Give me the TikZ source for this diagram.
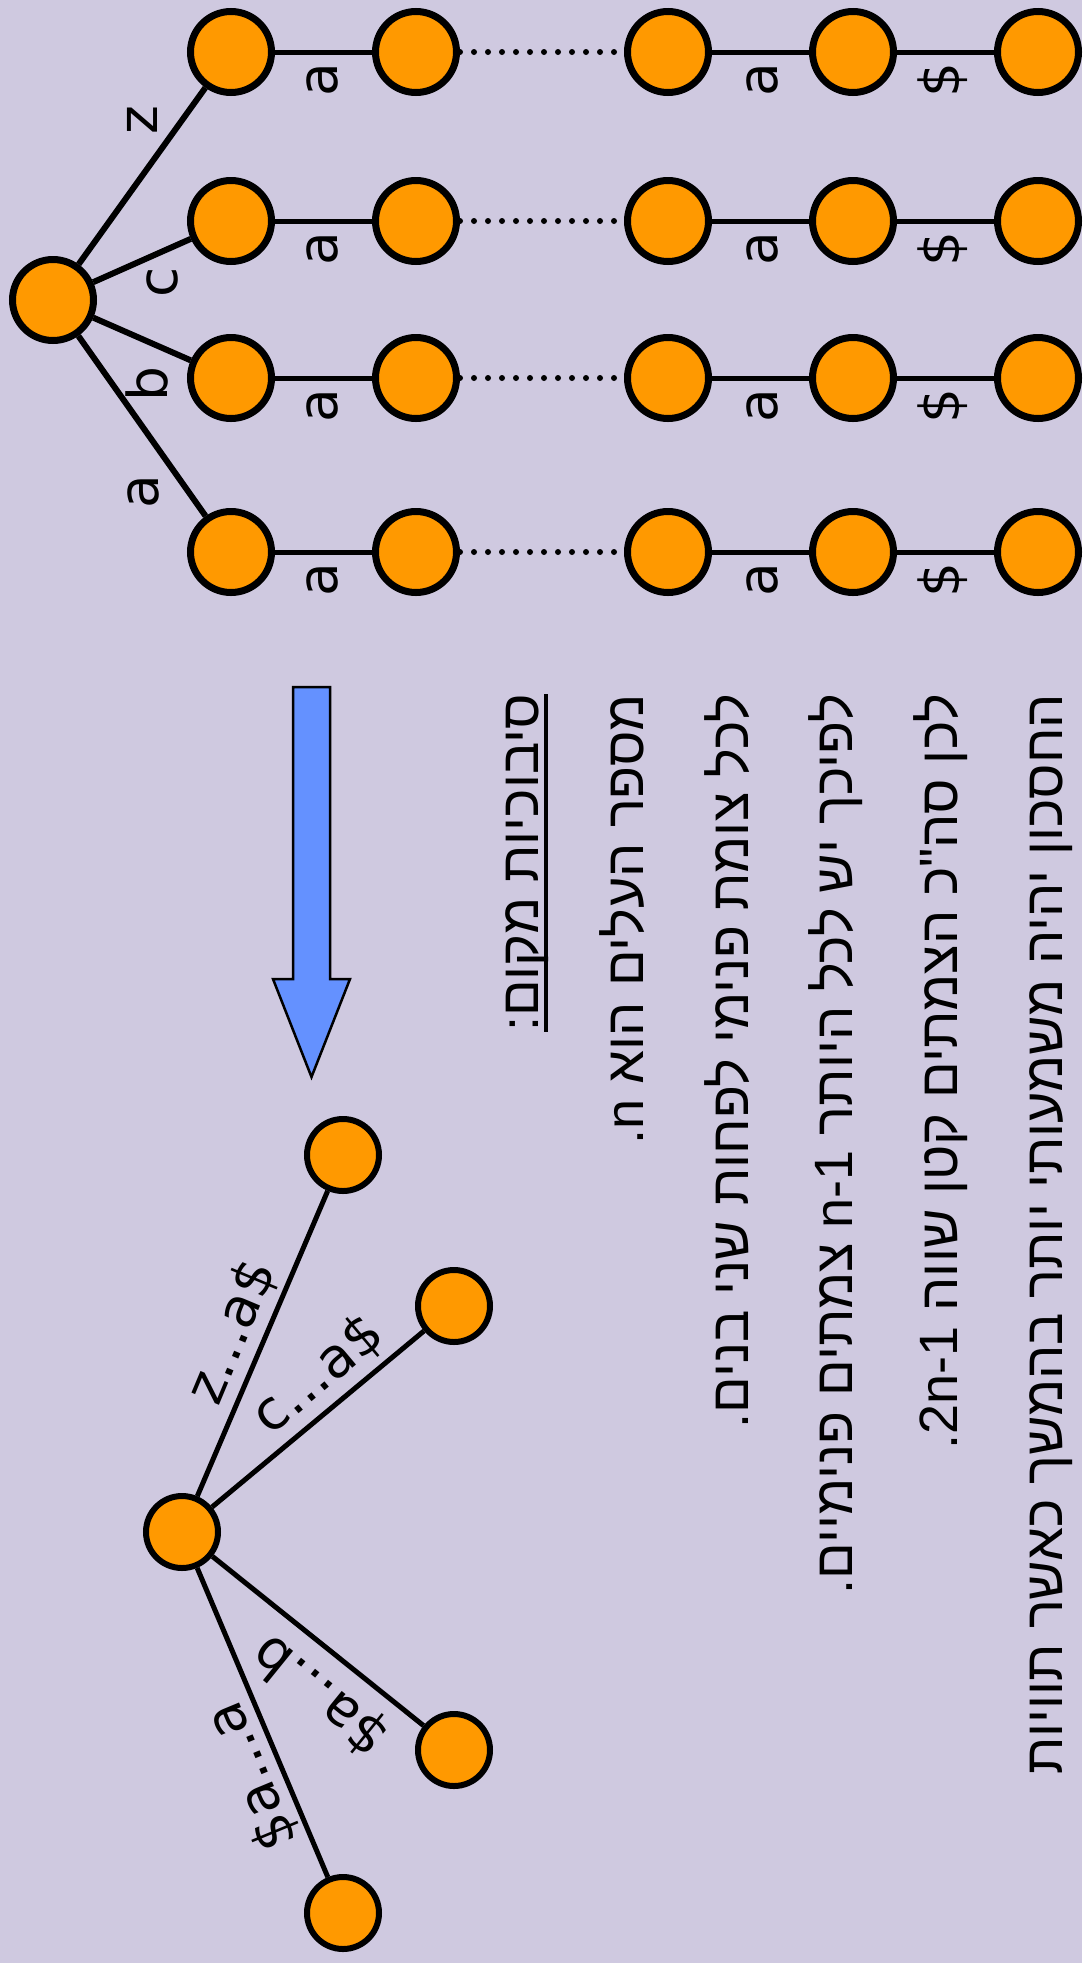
\documentclass[tikz,border=0pt]{standalone}
\usepackage{fontspec}
\setmainfont{Liberation Sans}
\newfontfamily\hebfont[Script=Hebrew]{Liberation Sans}
\newfontfamily\lblfont{DejaVu Sans}
\TeXXeTstate=1
\definecolor{slidebg}{RGB}{207,201,224}
\definecolor{vtxorange}{RGB}{255,153,0}
\definecolor{arrowblue}{RGB}{100,145,255}
\tikzset{
  vtx/.style={circle,draw=black,fill=vtxorange,line width=7pt,minimum size=81pt,inner sep=0pt},
  leaf/.style={vtx,line width=6pt,minimum size=72pt},
  treeedge/.style={line width=6pt},
  chainline/.style={line width=5pt},
  dotchain/.style={line width=6pt,line cap=round,dash pattern=on 0pt off 14pt},
  lbl/.style={font=\lblfont\fontsize{55}{60}\selectfont,inner sep=0pt},
  heb/.style={font=\hebfont\fontsize{54}{60}\selectfont,inner sep=0pt,rotate=90,anchor=base east},
  uline/.style={line width=4.5pt},
  bluearrow/.style={fill=arrowblue,draw=black,line width=2.5pt}
}
\begin{document}
\begin{tikzpicture}[x=1pt,y=-1pt]
        \fill[slidebg] (0,0) rectangle (1082,1963);
        \useasboundingbox (0,0) rectangle (1082,1963);

        % upper tree: one chain for every first letter
        \node [vtx] (root) at (53,300) {};
        \foreach \row/\ry in {z/52,c/221,b/378,a/552} {
            \node [vtx] (\row1) at (231,\ry) {};
            \node [vtx] (\row2) at (416,\ry) {};
            \node [vtx] (\row3) at (668,\ry) {};
            \node [vtx] (\row4) at (853,\ry) {};
            \node [vtx] (\row5) at (1038,\ry) {};
            \draw [chainline] (\row1) -- (\row2);
            \draw [dotchain] (\row2) -- (\row3);
            \draw [chainline] (\row3) -- (\row4);
            \draw [chainline] (\row4) -- (\row5);
            \node [lbl,rotate=90] (\row12) at (322,\ry+28) {a};
            \node [lbl,rotate=90] (\row34) at (762,\ry+28) {a};
            \node [lbl,rotate=90] (\row45) at (943,\ry+28) {\$};
        }
        \draw [treeedge] (root) -- (z1);
        \draw [treeedge] (root) -- (c1);
        \draw [treeedge] (root) -- (b1);
        \draw [treeedge] (root) -- (a1);
        \node [lbl,rotate=90] (rootz) at (142,120) {z};
        \node [lbl,rotate=90] (rootc) at (162,282) {c};
        \node [lbl,rotate=90] (rootb) at (147,384) {b};
        \node [lbl,rotate=90] (roota) at (143,492) {a};

        % text
        \node [heb] (line1) at (1062,694) {\beginR החסכון יהיה משמעותי יותר בהמשך כאשר תוויות\endR};
        \node [heb] (line2) at (957,694) {\beginR לכן סה"כ הצמתים קטן שווה \beginL 2n-1\endL.\endR};
        \node [heb] (line3) at (852,694) {\beginR לפיכך יש לכל היותר \beginL n-1\endL{} צמתים פנימיים.\endR};
        \node [heb] (line4) at (748,694) {\beginR לכל צומת פנימי לפחות שני בנים.\endR};
        \node [heb] (line5) at (643,694) {\beginR מספר העלים הוא n\kern0pt.\endR};
        \node [heb] (line6) at (538,694) {\beginR סיבוכיות מקום:\endR};
        \draw [uline] ([xshift=8pt]line6.base east) -- ([xshift=8pt]line6.base west);

        \draw [bluearrow] (293,687) -- (330,687) -- (330,979) -- (350,979) -- (311.5,1077) -- (273,979) -- (293,979) -- cycle;

        % compressed tree
        \node [leaf] (broot) at (182,1532) {};
        \node [leaf] (bz) at (343,1155) {};
        \node [leaf] (bc) at (454,1306) {};
        \node [leaf] (bb) at (454,1750) {};
        \node [leaf] (ba) at (343,1913) {};
        \draw [treeedge,line width=5pt] (broot) -- (bz);
        \draw [treeedge,line width=5pt] (broot) -- (bc);
        \draw [treeedge,line width=5pt] (broot) -- (bb);
        \draw [treeedge,line width=5pt] (broot) -- (ba);
        \node [lbl,rotate=67.3] (lbz) at (232,1332) {z...a\$};
        \node [lbl,rotate=40] (lbc) at (318,1375) {c...a\$};
        \node [lbl,rotate=141] (lbb) at (320,1695) {\$a...b};
        \node [lbl,rotate=112.5] (lba) at (252,1776) {\$a...a};
\end{tikzpicture}
\end{document}
